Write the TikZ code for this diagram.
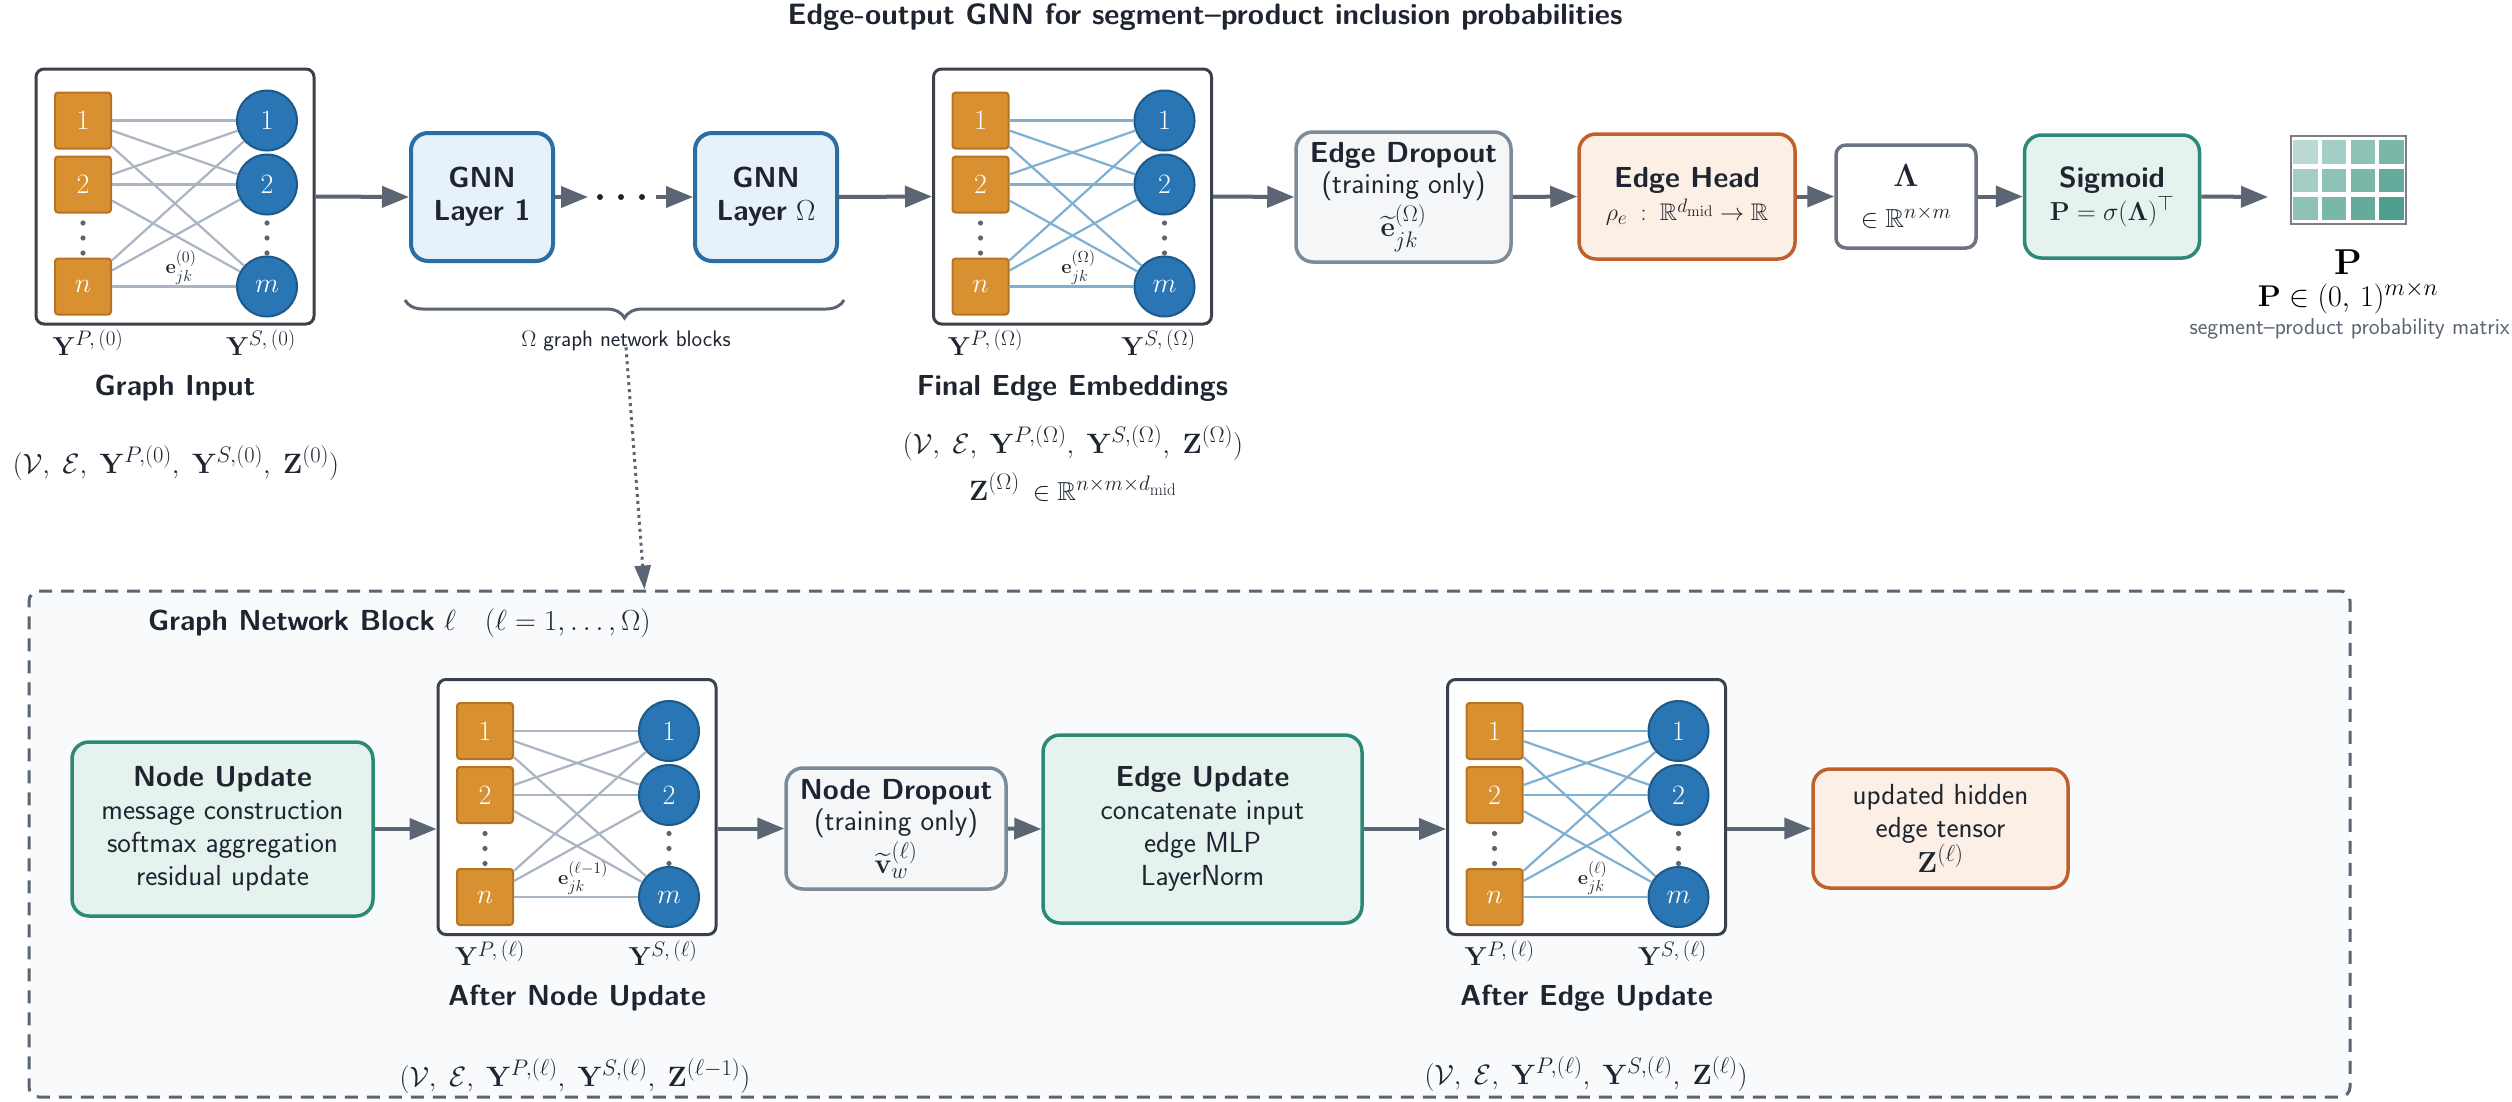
\RequirePackage{fix-cm}
\documentclass[tikz,border=0pt]{standalone}
\usepackage{amsmath,amssymb}
\usetikzlibrary{arrows.meta,calc,decorations.pathreplacing}

\DeclareMathSizes{20}{20}{16}{13}
\DeclareMathSizes{22}{22}{18}{14}
\DeclareMathSizes{24}{24}{19.5}{15.5}
\DeclareMathSizes{26}{26}{21}{17}
\DeclareMathSizes{28}{28}{22.5}{18}
\DeclareMathSizes{29}{29}{23}{18.5}
\DeclareMathSizes{30}{30}{24}{19}

\definecolor{textc}{HTML}{1E2530}
\definecolor{slate}{HTML}{5B6573}
\definecolor{boxedge}{HTML}{3A414B}
\definecolor{sqfill}{HTML}{D89030}
\definecolor{sqborder}{HTML}{B87322}
\definecolor{cirfill}{HTML}{2A75B3}
\definecolor{cirborder}{HTML}{1D5A8A}
\definecolor{grayedge}{HTML}{A9B5C2}
\definecolor{blueedge}{HTML}{7EB0D2}
\definecolor{gnnfill}{HTML}{E6F1FA}
\definecolor{gnnborder}{HTML}{2A6EA3}
\definecolor{dropfill}{HTML}{F4F6F8}
\definecolor{dropborder}{HTML}{7B8B99}
\definecolor{headfill}{HTML}{FCEFE5}
\definecolor{headborder}{HTML}{C0602C}
\definecolor{lamborder}{HTML}{6B7280}
\definecolor{tealfill}{HTML}{E5F2EE}
\definecolor{tealborder}{HTML}{2B8A75}
\definecolor{blockfill}{HTML}{F8FAFC}
\definecolor{matc}{HTML}{3D9683}
\definecolor{matborder}{HTML}{7A7F87}

\tikzset{
  arr/.style={draw=slate, line width=4pt, -{Triangle[length=27pt,width=21pt]}},
  dotarr/.style={draw=slate, line width=3pt, dash pattern=on 3pt off 4pt, -{Triangle[length=24pt,width=16pt]}},
  bracedeco/.style={draw=slate, line width=3pt, decorate, decoration={brace, mirror, amplitude=18pt}},
  gbox/.style={draw=boxedge, line width=3pt, rounded corners=8pt, fill=white, minimum width=278pt, minimum height=255pt, inner sep=0pt},
  sqnode/.style={rectangle, draw=sqborder, fill=sqfill, line width=2pt, rounded corners=3pt, minimum size=56pt, inner sep=0pt, text=white, font=\fontsize{28}{30}\selectfont},
  cirnode/.style={circle, draw=cirborder, fill=cirfill, line width=2pt, minimum size=60pt, inner sep=0pt, text=white, font=\fontsize{28}{30}\selectfont},
  gedge/.style={draw=grayedge, line width=2.2pt},
  bedge/.style={draw=blueedge, line width=2.2pt},
  elbl/.style={font=\fontsize{20}{22}\selectfont, inner sep=0pt, text=textc},
  ylbl/.style={font=\fontsize{26}{28}\selectfont, inner sep=0pt, text=textc},
  captxt/.style={font=\sffamily\bfseries\fontsize{29}{34}\selectfont, inner sep=0pt, text=textc},
  tup/.style={font=\fontsize{28}{32}\selectfont, inner sep=0pt, text=textc},
  procbox/.style={rounded corners=17pt, line width=4pt, align=center, inner sep=0pt, text=textc, font=\sffamily\fontsize{29}{33}\selectfont},
  gnnbox/.style={procbox, draw=gnnborder, fill=gnnfill, minimum width=142pt, minimum height=128pt},
  dropbox/.style={procbox, draw=dropborder, fill=dropfill, line width=3.5pt, font=\sffamily\fontsize{29}{31}\selectfont},
  headbox/.style={procbox, draw=headborder, fill=headfill, line width=3.5pt},
  tealbox/.style={procbox, draw=tealborder, fill=tealfill, line width=3.5pt},
  lambox/.style={procbox, draw=lamborder, fill=white, rounded corners=10pt, line width=3.5pt},
  blockbox/.style={draw=slate, line width=3pt, dash pattern=on 13pt off 9pt, rounded corners=10pt, fill=blockfill, inner sep=0pt},
  smalltxt/.style={font=\sffamily\fontsize{22.5}{25}\selectfont, inner sep=0pt, text=textc},
}

% graph panel: prefix, cx, cy, edge style, Y round, e round, caption
\newcommand\GPanel[7]{%
  \node[gbox] (#1box) at (#2,#3) {};
  \node[sqnode] (#1p1) at (#2-92,#3-76) {1};
  \node[sqnode] (#1p2) at (#2-92,#3-12) {2};
  \node[sqnode] (#1pn) at (#2-92,#3+90) {$n$};
  \node[cirnode] (#1s1) at (#2+92,#3-76) {1};
  \node[cirnode] (#1s2) at (#2+92,#3-12) {2};
  \node[cirnode] (#1sm) at (#2+92,#3+90) {$m$};
  \foreach \a in {1,2,n}{\foreach \b in {1,2,m}{\draw[#4] (#1p\a) -- (#1s\b);}}
  \foreach \d in {26.5,41.5,56.5}{%
    \fill[slate] (#2-92,#3+\d) circle (2.6pt);
    \fill[slate] (#2+92,#3+\d) circle (2.6pt);}
  \node[elbl] (#1el) at (#2+6,#3+71) {$\mathbf{e}^{(#6)}_{jk}$};
  \node[ylbl] (#1yp) at (#2-87,#3+146) {$\mathbf{Y}^{P,\,(#5)}$};
  \node[ylbl] (#1ys) at (#2+86,#3+146) {$\mathbf{Y}^{S,\,(#5)}$};
  \node[captxt] (#1cap) at (#2,#3+191.5) {#7};
}

\begin{document}
\begin{tikzpicture}[x=1pt,y=-1pt]
\useasboundingbox (0,0) rectangle (2512,1101);
\fill[white] (0,0) rectangle (2512,1101);

% title
\node[font=\sffamily\bfseries\fontsize{29.5}{32}\selectfont, text=textc] (title) at (1205,17) {Edge-output GNN for segment–product inclusion probabilities};

% ---------- block (bottom) background ----------
\node[blockbox, minimum width=2321pt, minimum height=506pt] (blk) at (1189.5,844) {};
\node[anchor=west, font=\sffamily\fontsize{29}{32}\selectfont, text=textc, inner sep=0pt] (blktitle) at (148,623) {\textbf{Graph Network Block} $\ell$\quad $(\ell=1,\ldots,\Omega)$};

% ---------- top row ----------
\GPanel{gin}{175}{196.5}{gedge}{0}{0}{Graph Input}
\node[tup] (gintup) at (176,463) {$(\mathcal{V},\;\mathcal{E},\;\mathbf{Y}^{P,(0)},\;\mathbf{Y}^{S,(0)},\;\mathbf{Z}^{(0)})$};

\node[gnnbox] (gnn1) at (482,197) {\textbf{GNN}\\\textbf{Layer 1}};
\node[gnnbox] (gnnO) at (766,197) {\textbf{GNN}\\\textbf{Layer} $\Omega$};
\coordinate (d1) at (588,197);
\coordinate (d2) at (656,197);
\foreach \x in {600,621,642}{\fill[textc] (\x,197) circle (3pt);}

\GPanel{gfin}{1072.5}{196.5}{bedge}{\Omega}{\Omega}{Final Edge Embeddings}
\node[tup] (fintup) at (1073,443) {$(\mathcal{V},\;\mathcal{E},\;\mathbf{Y}^{P,(\Omega)},\;\mathbf{Y}^{S,(\Omega)},\;\mathbf{Z}^{(\Omega)})$};
\node[tup] (finz) at (1073,487) {$\mathbf{Z}^{(\Omega)}$\, {\fontsize{26}{28}\selectfont$\in\mathbb{R}^{n\times m\times d_{\mathrm{mid}}}$}};

\node[dropbox, minimum width=215pt, minimum height=130pt] (edrop) at (1403.5,197) {\textbf{Edge Dropout}\\(training only)\\[3pt]{\fontsize{28}{30}\selectfont${\widetilde{\mathbf{e}}}^{(\Omega)}_{jk}$}};
\node[headbox, minimum width=216pt, minimum height=125pt] (ehead) at (1687,196.5) {\textbf{Edge Head}\\{\fontsize{24}{28}\selectfont$\rho_e\;:\;\mathbb{R}^{d_{\mathrm{mid}}}\to\mathbb{R}$}};
\node[lambox, minimum width=140pt, minimum height=103pt] (lam) at (1906,196.5) {{\fontsize{32}{34}\selectfont$\mathbf{\Lambda}$}\\[8pt]{\fontsize{26}{28}\selectfont$\in\mathbb{R}^{n\times m}$}};
\node[tealbox, minimum width=175pt, minimum height=123pt] (sig) at (2112,196.5) {\textbf{Sigmoid}\\{\fontsize{26}{28}\selectfont$\mathbf{P}=\sigma(\mathbf{\Lambda})^{\top}$}};
\coordinate (ptip) at (2268,197);

% probability matrix icon
\node[draw=matborder, line width=2.5pt, fill=white, minimum width=115pt, minimum height=88pt, inner sep=0pt] (pmat) at (2348.5,180) {};
\foreach \i in {0,1,2}{\foreach \j in {0,1,2,3}{%
  \pgfmathtruncatemacro\pp{36+11*(\i+\j)}
  \fill[matc!\pp!white] (2293.3+28.7*\j,140.2+28.3*\i) rectangle ++(24.4,23.3);}}
\node[font=\fontsize{36}{38}\selectfont, inner sep=0pt] (plbl) at (2348,262) {$\mathbf{P}$};
\node[font=\fontsize{30}{32}\selectfont, inner sep=0pt] (pdom) at (2348,298) {$\mathbf{P}\in(0,\,1)^{m\times n}$};
\node[anchor=east, font=\sffamily\fontsize{23}{25}\selectfont, inner sep=0pt, text=slate] (pdesc) at (2510,329) {segment–product probability matrix};

% brace
\coordinate (brL) at (405,300);
\coordinate (brR) at (844,300);
\draw[bracedeco] (brL) -- (brR);
\node[smalltxt] (brlbl) at (626,341) {$\Omega$ graph network blocks};

% top arrows
\draw[arr] (ginbox.east) -- (gnn1.west);
\draw[arr] (gnn1.east) -- (d1);
\draw[arr] (d2) -- (gnnO.west);
\draw[arr] (gnnO.east) -- (gfinbox.west);
\draw[arr] (gfinbox.east) -- (edrop.west);
\draw[arr] (edrop.east) -- (ehead.west);
\draw[arr] (ehead.east) -- (lam.west);
\draw[arr] (lam.east) -- (sig.west);
\draw[arr] (sig.east) -- (ptip);

% pointer to block
\coordinate (blkin) at ($(blk.north west)+(617,0)$);
\draw[dotarr] ([yshift=4pt]brlbl.south) -- (blkin);

% ---------- bottom row ----------
\node[tealbox, minimum width=301pt, minimum height=174pt] (nupd) at (222.5,829) {\textbf{Node Update}\\message construction\\softmax aggregation\\residual update};
\GPanel{an}{577}{807}{gedge}{\ell}{\ell-1}{After Node Update}
\node[tup] (antup) at (575,1076) {$(\mathcal{V},\;\mathcal{E},\;\mathbf{Y}^{P,(\ell)},\;\mathbf{Y}^{S,(\ell)},\;\mathbf{Z}^{(\ell-1)})$};
\node[dropbox, minimum width=220pt, minimum height=121pt] (ndrop) at (896,828.5) {\textbf{Node Dropout}\\(training only)\\[3pt]{\fontsize{28}{30}\selectfont${\widetilde{\mathbf{v}}}^{(\ell)}_{w}$}};
\node[tealbox, minimum width=319pt, minimum height=188pt] (eupd) at (1202.5,829) {\textbf{Edge Update}\\concatenate input\\edge MLP\\LayerNorm};
\GPanel{ae}{1586.5}{807}{bedge}{\ell}{\ell}{After Edge Update}
\node[tup] (aetup) at (1586,1074) {$(\mathcal{V},\;\mathcal{E},\;\mathbf{Y}^{P,(\ell)},\;\mathbf{Y}^{S,(\ell)},\;\mathbf{Z}^{(\ell)})$};
\node[headbox, minimum width=255pt, minimum height=119pt] (zout) at (1940.5,828.5) {updated hidden\\edge tensor\\$\mathbf{Z}^{(\ell)}$};

\draw[arr] (nupd.east) -- (nupd.east -| anbox.west);
\draw[arr] (anbox.east |- ndrop.west) -- (ndrop.west);
\draw[arr] (ndrop.east) -- (eupd.west);
\draw[arr] (eupd.east) -- (eupd.east -| aebox.west);
\draw[arr] (aebox.east |- zout.west) -- (zout.west);
\end{tikzpicture}
\end{document}
